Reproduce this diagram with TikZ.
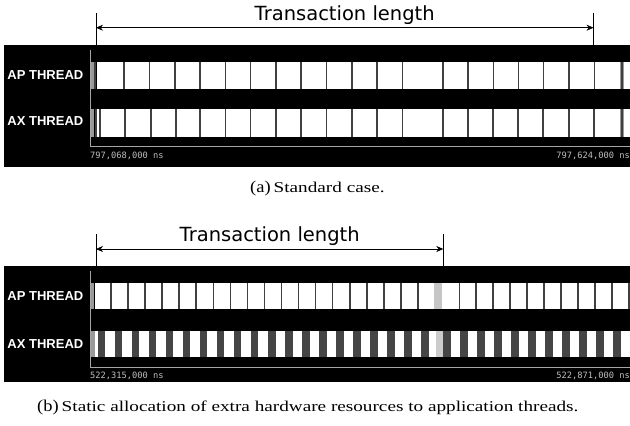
\documentclass[tikz,border=0pt]{standalone}
\usepackage{fontspec}
\setmainfont{Liberation Serif}
\newfontfamily\labfont{Liberation Sans}
\newfontfamily\dimfont{DejaVu Sans}
\newfontfamily\tsfont{DejaVu Sans Mono}
\usetikzlibrary{arrows.meta}
\definecolor{sepdark}{gray}{0.25}
\definecolor{seplight}{gray}{0.6}
\definecolor{stripedark}{gray}{0.27}
\definecolor{tsgray}{gray}{0.75}
\tikzset{
  panelbg/.style={fill=black},
  rowbox/.style={fill=white},
  frameline/.style={draw=gray!70, line width=0.9pt},
  sepbar/.style={draw=sepdark, line width=1.6pt},
  thread/.style={text=white, font=\labfont\bfseries\fontsize{13}{13}\selectfont, anchor=east, inner sep=0pt},
  stamp/.style={text=tsgray, font=\tsfont\fontsize{8.7}{8.7}\selectfont, inner sep=0pt},
  dimtext/.style={font=\dimfont\fontsize{19.5}{19.5}\selectfont, inner sep=0pt, anchor=base},
  dimline/.style={draw=black, line width=0.6pt, {Stealth[length=7pt,width=6pt]}-{Stealth[length=7pt,width=6pt]}},
  tick/.style={draw=black, line width=0.6pt},
  capnode/.style={inner sep=0pt, anchor=base west},
}
\newcommand\caplab[1]{\scalebox{1.12}[1]{\fontsize{16.5}{16.5}\selectfont #1}}
\newcommand\captext[1]{\scalebox{1.28}[1]{\fontsize{15}{15}\selectfont #1}}
\begin{document}
\begin{tikzpicture}[x=1pt,y=-1pt]
\useasboundingbox (0,0) rectangle (630,426);
\fill[white] (0,0) rectangle (630,426);

% ================= panel (a) =================
\fill[panelbg] (4,45) rectangle (630,167);
\fill[rowbox] (97,62) rectangle (630,88.5);
\fill[rowbox] (97,109) rectangle (630,137);
\draw[frameline] (90.7,50) |- (630,146);
\fill[seplight] (91,62) rectangle (93.5,88.5);
\fill[sepdark] (93.5,62) rectangle (95.5,88.5);
\fill[seplight] (91,109) rectangle (93.5,137);
\fill[sepdark] (95,109) rectangle (97,137);
\foreach \x in {124,149.3,174.7,200,225.3,250.6,275.9,301.2,326.5,351.8,377.1,402.4,442.7,467.7,493.3,518.3,543.3,569,594.3}
  \draw[sepbar] (\x,62) -- (\x,88.5);
\foreach \x in {100,125,150.7,176,200,225.3,250.6,275.9,301.2,326.5,351.8,377.1,402.4,442.7,467.7,493,518,543,569,594}
  \draw[sepbar] (\x,109) -- (\x,137);
\fill[seplight] (620,62) rectangle (624,88.5);
\fill[sepdark] (621,62) rectangle (623,88.5);
\fill[seplight] (620,109) rectangle (624,137);
\fill[sepdark] (621,109) rectangle (623,137);
\node[thread] (apa) at (83.5,74.7) {AP THREAD};
\node[thread] (axa) at (83.5,120.7) {AX THREAD};
\node[stamp, anchor=west] (tsa1) at (90,155.5) {797,068,000 ns};
\node[stamp, anchor=east] (tsa2) at (630,155.5) {797,624,000 ns};
\coordinate (a1) at (96,27.7);
\coordinate (a2) at (593.5,27.7);
\draw[tick] (96,13) -- (96,45);
\draw[tick] (593.5,13) -- (593.5,45);
\draw[dimline] (a1) -- (a2);
\node[dimtext] (ta) at (344.7,20) {Transaction length};
\node[capnode] (capa) at (250,192.3) {\caplab{(a)}\hspace{3pt}\captext{Standard case.}};

% ================= panel (b) =================
\fill[panelbg] (4,266) rectangle (630,382);
\fill[rowbox] (95,283) rectangle (630,309.3);
\fill[rowbox] (95,331) rectangle (630,357.3);
\draw[frameline] (90.7,271) |- (630,367);
\fill[seplight] (91,283) rectangle (94,309.3);
\foreach \i in {0,...,18}
  \draw[sepbar] (111+17.05*\i,283) -- (111+17.05*\i,309.3);
\fill[gray!45] (434,283) rectangle (442,309.3);
\foreach \i in {0,...,10}
  \draw[sepbar] (459.3+16.97*\i,283) -- (459.3+16.97*\i,309.3);
\fill[seplight] (91,331) rectangle (95,357.3);
\foreach \i in {0,...,19}
  \fill[stripedark] (97.5+17.05*\i,331) rectangle (105+17.05*\i,357.3);
\fill[gray!40] (436,331) rectangle (443,357.3);
\foreach \i in {0,...,10}
  \fill[stripedark] (443+17*\i,331) rectangle (451+17*\i,357.3);
\node[thread] (apb) at (83.5,296) {AP THREAD};
\node[thread] (axb) at (83.5,344) {AX THREAD};
\node[stamp, anchor=west] (tsb1) at (90,376) {522,315,000 ns};
\node[stamp, anchor=east] (tsb2) at (630,376) {522,871,000 ns};
\coordinate (b1) at (96,249);
\coordinate (b2) at (443.3,249);
\draw[tick] (96,234) -- (96,266);
\draw[tick] (443.3,234) -- (443.3,266);
\draw[dimline] (b1) -- (b2);
\node[dimtext] (tb) at (269.7,241) {Transaction length};
\node[capnode] (capb) at (37,411.7) {\caplab{(b)}\hspace{3pt}\captext{Static allocation of extra hardware resources to application threads.}};
\end{tikzpicture}
\end{document}
